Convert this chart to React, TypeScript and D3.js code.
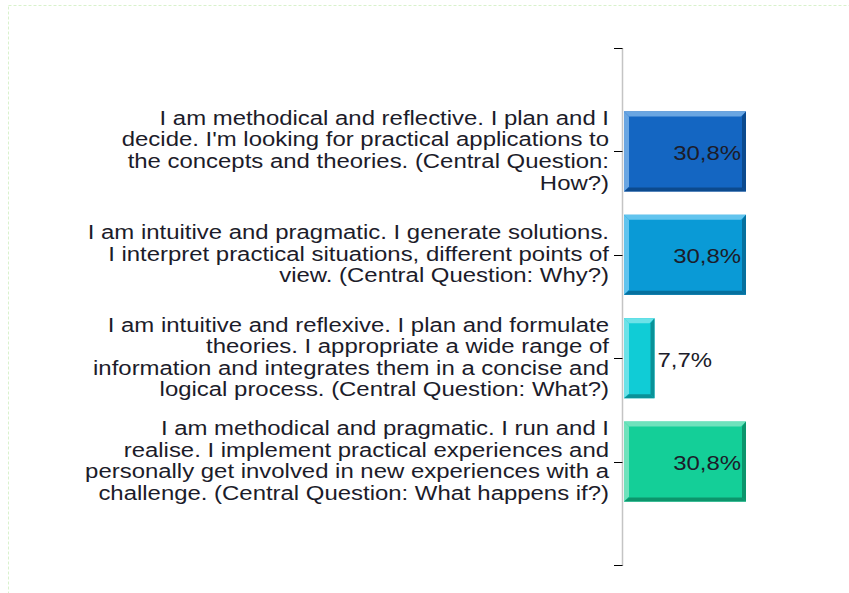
import React from 'react';
import { scaleBand, scaleLinear } from 'd3';

const width = 849;
const height = 593;

// data
const categories = ['How', 'Why', 'What', 'WhatIf'];
const values = [30.8, 30.8, 7.7, 30.8];
const valueLabels = ['30,8%', '30,8%', '7,7%', '30,8%'];
const labelLines = [
  [
    'I am methodical and reflective. I plan and I',
    "decide. I'm looking for practical applications to",
    'the concepts and theories. (Central Question:',
    'How?)',
  ],
  [
    'I am intuitive and pragmatic. I generate solutions.',
    'I interpret practical situations, different points of',
    'view. (Central Question: Why?)',
  ],
  [
    'I am intuitive and reflexive. I plan and formulate',
    'theories. I appropriate a wide range of',
    'information and integrates them in a concise and',
    'logical process. (Central Question: What?)',
  ],
  [
    'I am methodical and pragmatic. I run and I',
    'realise. I implement practical experiences and',
    'personally get involved in new experiences with a',
    'challenge. (Central Question: What happens if?)',
  ],
];
const faceColors = ['#1466c2', '#0a9ad6', '#10ccd6', '#14cf98'];
const lightColors = ['#6aa6e2', '#62c4ee', '#6ce2e8', '#6fe2bc'];
const darkColors = ['#0c4a8e', '#06709e', '#0a9298', '#0c956c'];

const font = '"Liberation Sans", Arial, sans-serif';
const fontSize = 21;
const stretch = 1.14;
const lineH = 21.6;
const bevel = 5;

const App = () => {
  const yScale = scaleBand<string>()
    .domain(categories)
    .range([48, 565])
    .paddingInner(0.226)
    .paddingOuter(0.613);

  const xScale = scaleLinear().domain([0, 30.8]).range([624, 746]);
  const axisX = 622.5;

  return (
    <div style={{ position: 'absolute', left: 0, top: 0 }}>
      <svg width={width} height={height} style={{ display: 'block', background: '#fff' }}>
        {/* dashed outer frame */}
        <rect
          x={8.5}
          y={5.5}
          width={width + 10}
          height={height + 10}
          fill="none"
          stroke="#d9f2cc"
          strokeDasharray="3,2"
        />

        {/* axis */}
        <line x1={axisX} x2={axisX} y1={48} y2={566} stroke="#c4c4c4" strokeWidth={1.5} />
        {[48, 565].map(t => (
          <line key={t} x1={614} x2={axisX} y1={t + 0.5} y2={t + 0.5} stroke="#000" />
        ))}

        {categories.map((c, i) => {
          const y0 = yScale(c)!;
          const y1 = y0 + yScale.bandwidth();
          const x0 = xScale(0);
          const x1 = xScale(values[i]);
          const cy = (y0 + y1) / 2;
          const d = bevel;
          const pts = (p: number[][]) => p.map(q => q.join(',')).join(' ');
          const inside = x1 - x0 > 80;
          const lines = labelLines[i];
          return (
            <g key={c}>
              <line x1={614} x2={axisX} y1={Math.round(cy) + 0.5} y2={Math.round(cy) + 0.5} stroke="#000" />
              <rect x={x0} y={y0} width={x1 - x0} height={y1 - y0} fill={faceColors[i]} />
              <polygon points={pts([[x0, y0], [x1, y0], [x1 - d, y0 + d], [x0 + d, y0 + d]])} fill={lightColors[i]} />
              <polygon points={pts([[x0, y0], [x0 + d, y0 + d], [x0 + d, y1 - d], [x0, y1]])} fill={lightColors[i]} />
              <polygon points={pts([[x1, y0], [x1, y1], [x1 - d + 1, y1 - d + 1], [x1 - d + 1, y0 + d]])} fill={darkColors[i]} />
              <polygon points={pts([[x0, y1], [x1, y1], [x1 - d + 1, y1 - d + 1], [x0 + d, y1 - d + 1]])} fill={darkColors[i]} />
              <g transform={`translate(${inside ? x1 - 5 : x1 + 3}, ${cy + 1}) scale(${stretch},1)`}>
                <text
                  x={0}
                  y={0}
                  dy="0.35em"
                  textAnchor={inside ? 'end' : 'start'}
                  fontFamily={font}
                  fontSize={fontSize}
                  fill="#1c1c2a"
                >
                  {valueLabels[i]}
                </text>
              </g>
              <g transform={`translate(609, ${cy - 1.5}) scale(${stretch},1)`}>
                {lines.map((ln, j) => (
                  <text
                    key={j}
                    x={0}
                    y={(j - (lines.length - 1) / 2) * lineH}
                    dy="0.35em"
                    textAnchor="end"
                    fontFamily={font}
                    fontSize={fontSize}
                    fill="#1c1c2a"
                  >
                    {ln}
                  </text>
                ))}
              </g>
            </g>
          );
        })}
      </svg>
    </div>
  );
};

export default App;
